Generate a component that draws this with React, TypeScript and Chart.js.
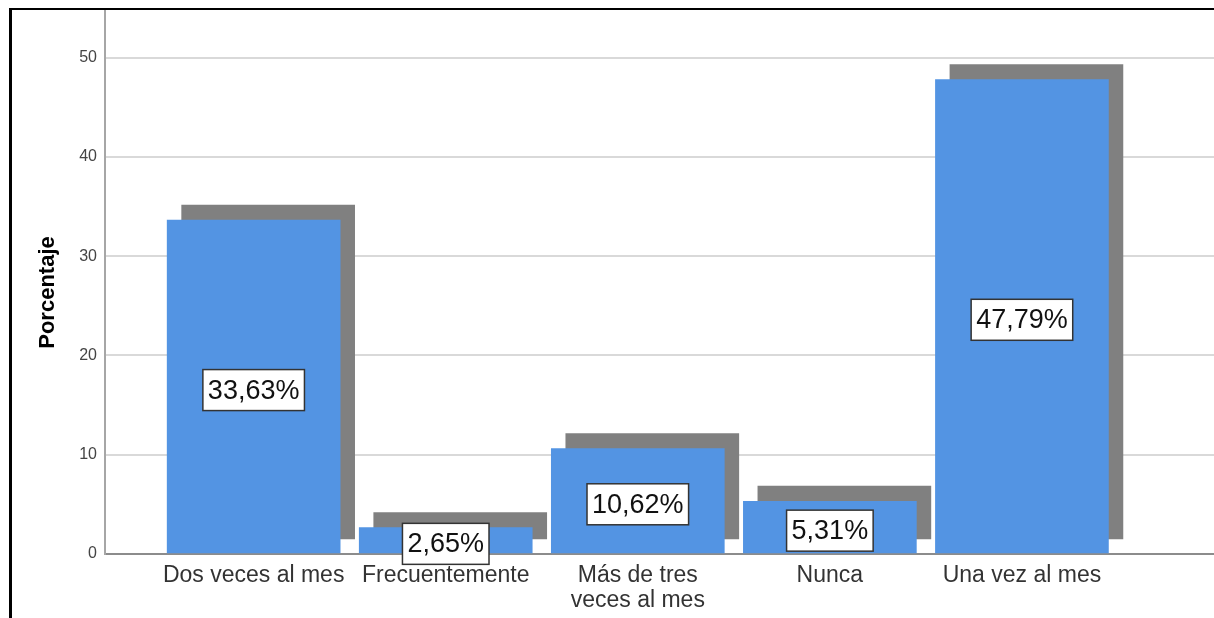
import { useEffect, useRef } from "react";
import { Chart, registerables } from "chart.js";

Chart.register(...registerables);

// ---- data ----
const categories: string[][] = [
  ["Dos veces al mes"],
  ["Frecuentemente"],
  ["Más de tres", "veces al mes"],
  ["Nunca"],
  ["Una vez al mes"],
];
const percentages: number[] = [33.63, 2.65, 10.62, 5.31, 47.79];
const percentLabels: string[] = ["33,63%", "2,65%", "10,62%", "5,31%", "47,79%"];
const yTicks: number[] = [0, 10, 20, 30, 40, 50];
const yTitle = "Porcentaje";

// ---- style ----
const FONT = 'Arial, "Liberation Sans", sans-serif';
const BLUE = "#5394e3";
const SHADOW = "#808080";
const SHADOW_DX = 0.0755; // x-units
const SHADOW_DY = 1.52; // y-units

const labelPlugin = {
  id: "boxLabels",
  afterDatasetsDraw(chart: any) {
    const { ctx, scales } = chart;
    const meta = chart.getDatasetMeta(0);
    ctx.save();
    ctx.font = `27px ${FONT}`;
    ctx.textAlign = "center";
    ctx.textBaseline = "middle";
    meta.data.forEach((el: any, i: number) => {
      const cx = el.x;
      const cy = scales.y.getPixelForValue(percentages[i] / 2) + 3;
      const txt = percentLabels[i];
      const w = ctx.measureText(txt).width + 10;
      const h = 41;
      ctx.fillStyle = "#ffffff";
      ctx.fillRect(cx - w / 2, cy - h / 2, w, h);
      ctx.lineWidth = 1.5;
      ctx.strokeStyle = "#333333";
      ctx.strokeRect(cx - w / 2, cy - h / 2, w, h);
      ctx.fillStyle = "#111111";
      ctx.fillText(txt, cx, cy + 1);
    });
    // y axis title
    ctx.font = `bold 22px ${FONT}`;
    ctx.fillStyle = "#000000";
    ctx.translate(40, 284.5);
    ctx.rotate(-Math.PI / 2);
    ctx.fillText(yTitle, 0, 0);
    ctx.restore();
  },
};

export default function App() {
  const ref = useRef<HTMLCanvasElement | null>(null);

  useEffect(() => {
    if (!ref.current) return;
    const chart = new Chart(ref.current, {
      type: "bar",
      data: {
        datasets: [
          {
            data: percentages.map((v, i) => ({ x: i, y: v })) as any,
            backgroundColor: BLUE,
            barThickness: 173,
            grouped: false,
            order: 0,
          },
          {
            data: percentages.map((v, i) => ({ x: i + SHADOW_DX, y: [SHADOW_DY, v + SHADOW_DY] })) as any,
            backgroundColor: SHADOW,
            barThickness: 173,
            grouped: false,
            order: 1,
          },
        ],
      },
      options: {
        animation: false,
        responsive: false,
        layout: { padding: 0 },
        plugins: { legend: { display: false }, tooltip: { enabled: false } },
        scales: {
          x: {
            type: "linear",
            offset: false,
            min: -0.774,
            max: 5.0,
            grid: { display: false, drawTicks: false, offset: false },
            border: { color: "#8c8c8c", width: 2 },
            ticks: {
              font: { family: FONT, size: 23, lineHeight: 1.05 },
              color: "#333333",
              padding: 10,
              maxRotation: 0,
              autoSkip: false,
              callback: (v: any) => categories[v as number] ?? "",
            },
            afterBuildTicks: (s: any) => {
              s.ticks = categories.map((_, i) => ({ value: i }));
            },
            afterFit: (s: any) => {
              s.height = 64;
              s.paddingLeft = 0;
              s.paddingRight = 0;
            },
          },
          y: {
            min: 0,
            max: 55,
            grid: { color: "#d9d9d9", lineWidth: 2, drawTicks: false },
            border: { color: "#a6a6a6", width: 2 },
            ticks: {
              font: { family: FONT, size: 16 },
              color: "#444444",
              padding: 8,
              includeBounds: false,
            },
            afterBuildTicks: (s: any) => {
              s.ticks = yTicks.map((v) => ({ value: v }));
            },
            afterFit: (s: any) => {
              s.width = 97;
              s.paddingTop = 0;
              s.paddingBottom = 0;
            },
          },
        },
      },
      plugins: [labelPlugin],
    });
    return () => chart.destroy();
  }, []);

  return (
    <div style={{ position: "fixed", left: 8, top: 8, width: 1206, height: 610, background: "#fff" }}>
      <canvas ref={ref} width={1206} height={610} style={{ position: "absolute", left: 0, top: 0, display: "block" }} />
      <div style={{ position: "absolute", left: 1, top: 0, width: 1205, height: 2, background: "#000" }} />
      <div style={{ position: "absolute", left: 1, top: 0, width: 3, height: 610, background: "#000" }} />
    </div>
  );
}
